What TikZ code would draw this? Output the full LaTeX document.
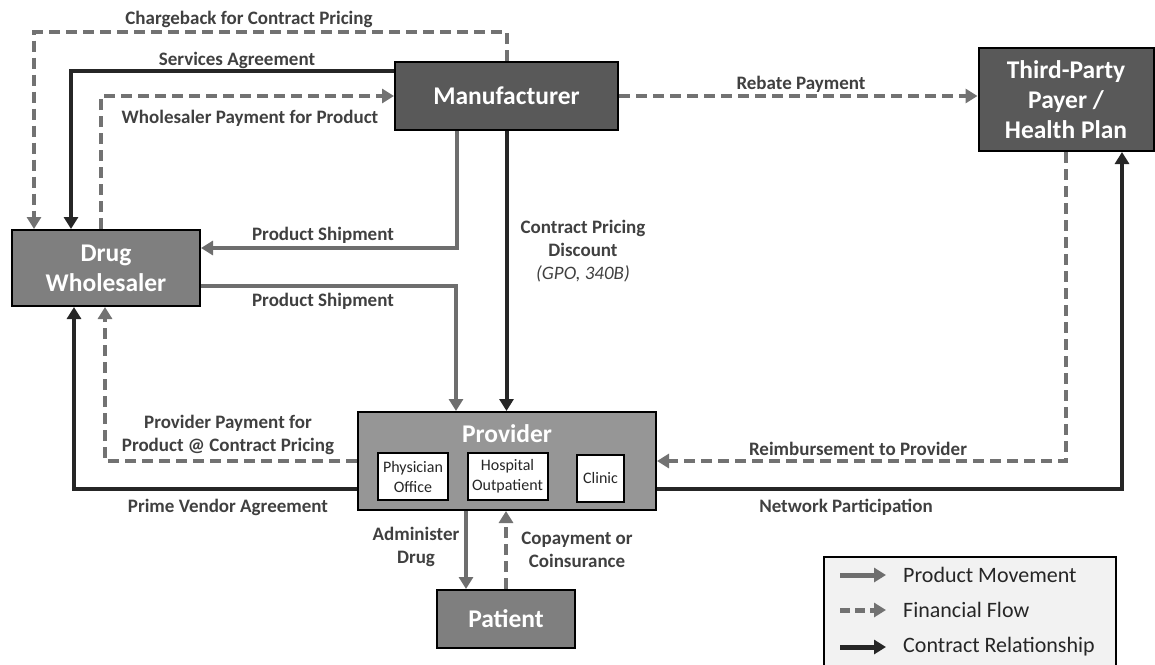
\documentclass[tikz,border=0pt]{standalone}
\usepackage{fontspec}
\setmainfont{Carlito}
\usetikzlibrary{arrows.meta}
\definecolor{prodc}{HTML}{6E6E6E}
\definecolor{finc}{HTML}{727272}
\definecolor{conc}{HTML}{262626}
\definecolor{darkbox}{HTML}{595959}
\definecolor{midbox}{HTML}{7F7F7F}
\definecolor{lightbox}{HTML}{969696}
\definecolor{lblc}{HTML}{404040}
\definecolor{subtext}{HTML}{262626}
\definecolor{legbg}{HTML}{F2F2F2}
\begin{document}
\begin{tikzpicture}[x=1pt,y=-1pt,
 box/.style={draw=black, line width=2pt, inner sep=0pt, text=white, font=\bfseries\fontsize{25.5}{30}\selectfont, align=center},
 boxtext/.style={inner sep=0pt, text=white, font=\bfseries\fontsize{25.5}{30}\selectfont, align=center},
 sub/.style={draw=black, line width=2pt, fill=white, inner sep=0pt, text=subtext, font=\fontsize{16}{20}\selectfont, align=center},
 lbl/.style={text=lblc, font=\bfseries\fontsize{19}{23}\selectfont, align=center, inner sep=0pt},
 legtxt/.style={text=subtext, font=\fontsize{22}{26}\selectfont, inner sep=0pt, anchor=west},
 arrowtip/.style={-{Triangle[length=12pt,width=14pt]}},
 prod/.style={draw=prodc, line width=4pt, arrowtip},
 fin/.style={draw=finc, line width=4pt, dash pattern=on 11pt off 6pt, arrowtip},
 con/.style={draw=conc, line width=4pt, arrowtip},
]
\useasboundingbox (0,0) rectangle (1155,664);

% main boxes
\node[box, fill=darkbox, minimum width=223pt, minimum height=68pt] (manu) at (506.5,96) {Manufacturer};
\node[box, fill=darkbox, minimum width=175pt, minimum height=103pt] (tpp) at (1066,99.5) {Third-Party\\Payer /\\Health Plan};
\node[box, fill=midbox, minimum width=188pt, minimum height=76pt] (whole) at (106,268) {Drug\\Wholesaler};
\node[box, fill=lightbox, minimum width=298pt, minimum height=98pt] (prov) at (507,461) {};
\node[boxtext] (provlbl) at (507,434) {Provider};
\node[box, fill=midbox, minimum width=138pt, minimum height=58pt] (pat) at (506,619) {Patient};

% sub boxes
\node[sub, minimum width=70pt, minimum height=47pt] (phys) at (413,476.5) {Physician\\Office};
\node[sub, minimum width=80pt, minimum height=47pt] (hosp) at (507.5,476.5) {Hospital\\Outpatient};
\node[sub, minimum width=47pt, minimum height=47pt] (clin) at (600.5,478) {Clinic};

% connectors
\draw[fin] (manu.north) -- ++(0,-29) -| ([xshift=23pt]whole.north west);
\draw[con] ([yshift=-10pt]manu.north west) -| ([xshift=60pt]whole.north west);
\draw[fin] ([xshift=90pt]whole.north west) |- (manu.west);
\draw[prod] ([xshift=63pt]manu.south west) |- ([yshift=20pt]whole.east);
\draw[prod] ([yshift=-18pt]whole.east) -| ([xshift=-51pt]prov.north);
\draw[con] (manu.south) -- (manu.south |- prov.north);
\draw[fin] (manu.east) -- (manu.east -| tpp.west);
\draw[fin] (tpp.south) |- (prov.east);
\draw[con] ([yshift=-28pt]prov.east) -| ([xshift=56pt]tpp.south);
\draw[fin] (prov.west) -| ([xshift=-1pt]whole.south);
\draw[con] ([yshift=-28pt]prov.west) -| ([xshift=-32pt]whole.south);
\draw[prod] ([xshift=-41pt]prov.south) -- ([xshift=-40pt]pat.north);
\draw[fin] (pat.north) -- (pat.north |- prov.south);

% labels
\node[lbl] (l1) at (249,19) {Chargeback for Contract Pricing};
\node[lbl] (l2) at (237,60) {Services Agreement};
\node[lbl] (l3) at (250,118) {Wholesaler Payment for Product};
\node[lbl] (l4) at (323,235) {Product Shipment};
\node[lbl] (l5) at (323,301) {Product Shipment};
\node[lbl] (l6) at (583,251) {Contract Pricing\\Discount\\{\mdseries\itshape (GPO, 340B)}};
\node[lbl] (l7) at (801,84) {Rebate Payment};
\node[lbl] (l8) at (858,449) {Reimbursement to Provider};
\node[lbl] (l9) at (846,507) {Network Participation};
\node[lbl] (l10) at (228,435) {Provider Payment for\\Product @ Contract Pricing};
\node[lbl] (l11) at (228,507) {Prime Vendor Agreement};
\node[lbl] (l12) at (416,547) {Administer\\Drug};
\node[lbl] (l13) at (577,550) {Copayment or\\Coinsurance};

% legend
\node[draw=black, line width=2pt, fill=legbg, minimum width=292pt, minimum height=120pt, inner sep=0pt, anchor=north west] (leg) at (823,556) {};
\coordinate (lg1) at (840,575);
\coordinate (lg2) at (840,610);
\coordinate (lg3) at (840,647);
\coordinate (lg1e) at (886,575);
\coordinate (lg2e) at (886,610);
\coordinate (lg3e) at (886,647);
\draw[prod, line width=5pt] (lg1) -- (lg1e);
\draw[fin, line width=5pt, dash pattern=on 10pt off 5pt] (lg2) -- (lg2e);
\draw[con, line width=5pt] (lg3) -- (lg3e);
\node[legtxt] (lt1) at (903,575) {Product Movement};
\node[legtxt] (lt2) at (903,610) {Financial Flow};
\node[legtxt] (lt3) at (903,647) {Contract Relationship};
\end{tikzpicture}
\end{document}
